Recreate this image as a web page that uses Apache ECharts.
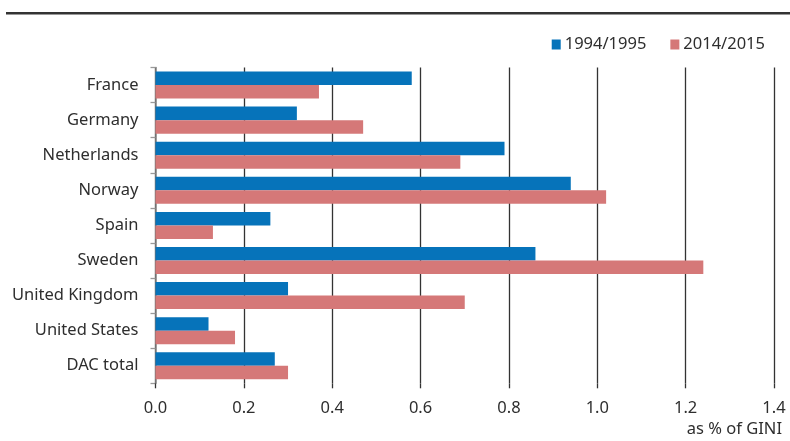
<!DOCTYPE html>
<html>
<head>
<meta charset="utf-8">
<script src="https://cdn.jsdelivr.net/npm/echarts@6/dist/echarts.min.js"></script>
<style>
  html, body { margin: 0; padding: 0; background: #fff; }
  #chart { width: 790px; height: 441px; }
</style>
</head>
<body>
<div id="chart"></div>
<script>
// ODA as a share of gross national income, two reference periods
const countries = ['France', 'Germany', 'Netherlands', 'Norway', 'Spain', 'Sweden', 'United Kingdom', 'United States', 'DAC total'];
const period1Name = '1994/1995';
const period2Name = '2014/2015';
const period1 = [0.58, 0.32, 0.79, 0.94, 0.26, 0.86, 0.30, 0.12, 0.27];
const period2 = [0.37, 0.47, 0.69, 1.02, 0.13, 1.24, 0.70, 0.18, 0.30];
const axisUnit = 'as % of GINI';

const FONT = '"Noto Sans", sans-serif';
const FS = 16.5;
const TEXT = '#2e2e2e';

const chart = echarts.init(document.getElementById('chart'), null, { renderer: 'canvas' });

chart.setOption({
  animation: false,
  textStyle: { fontFamily: FONT, color: TEXT },
  grid: { left: 155.5, right: 16, top: 67.5, bottom: 57.7, containLabel: false },
  legend: {
    top: 31,
    right: 20,
    itemWidth: 9,
    itemHeight: 10,
    itemGap: 24,
    icon: 'rect',
    textStyle: { fontFamily: FONT, fontSize: FS, color: TEXT, padding: [0, 0, 0, -1] },
    data: [period1Name, period2Name]
  },
  xAxis: {
    type: 'value',
    min: 0,
    max: 1.4,
    interval: 0.2,
    axisLine: { show: false },
    axisTick: { show: true, length: 5, lineStyle: { color: '#333', width: 1.3 } },
    splitLine: { show: true, lineStyle: { color: '#333', width: 1.3 } },
    axisLabel: {
      margin: 16,
      fontFamily: FONT,
      fontSize: FS,
      color: TEXT,
      formatter: v => v.toFixed(1)
    }
  },
  yAxis: {
    type: 'category',
    inverse: true,
    data: countries,
    axisLine: { show: true, lineStyle: { color: '#888', width: 1.5 } },
    axisTick: { show: true, length: 5, lineStyle: { color: '#999', width: 1.3 } },
    axisLabel: { margin: 17, fontFamily: FONT, fontSize: FS, color: TEXT }
  },
  series: [
    {
      name: period1Name,
      type: 'bar',
      data: period1,
      barGap: '0%',
      barCategoryGap: '23%',
      itemStyle: { color: '#0673BA' },
      z: 3
    },
    {
      name: period2Name,
      type: 'bar',
      data: period2,
      barGap: '0%',
      barCategoryGap: '23%',
      itemStyle: { color: '#D57878' },
      z: 3
    }
  ],
  graphic: [
    {
      type: 'rect',
      left: 6,
      top: 12,
      shape: { width: 784, height: 2.5 },
      style: { fill: '#333' }
    },
    {
      type: 'text',
      right: 8,
      top: 421,
      style: { text: axisUnit, font: FS + 'px "Noto Sans", sans-serif', fill: TEXT }
    }
  ]
});
</script>
</body>
</html>
